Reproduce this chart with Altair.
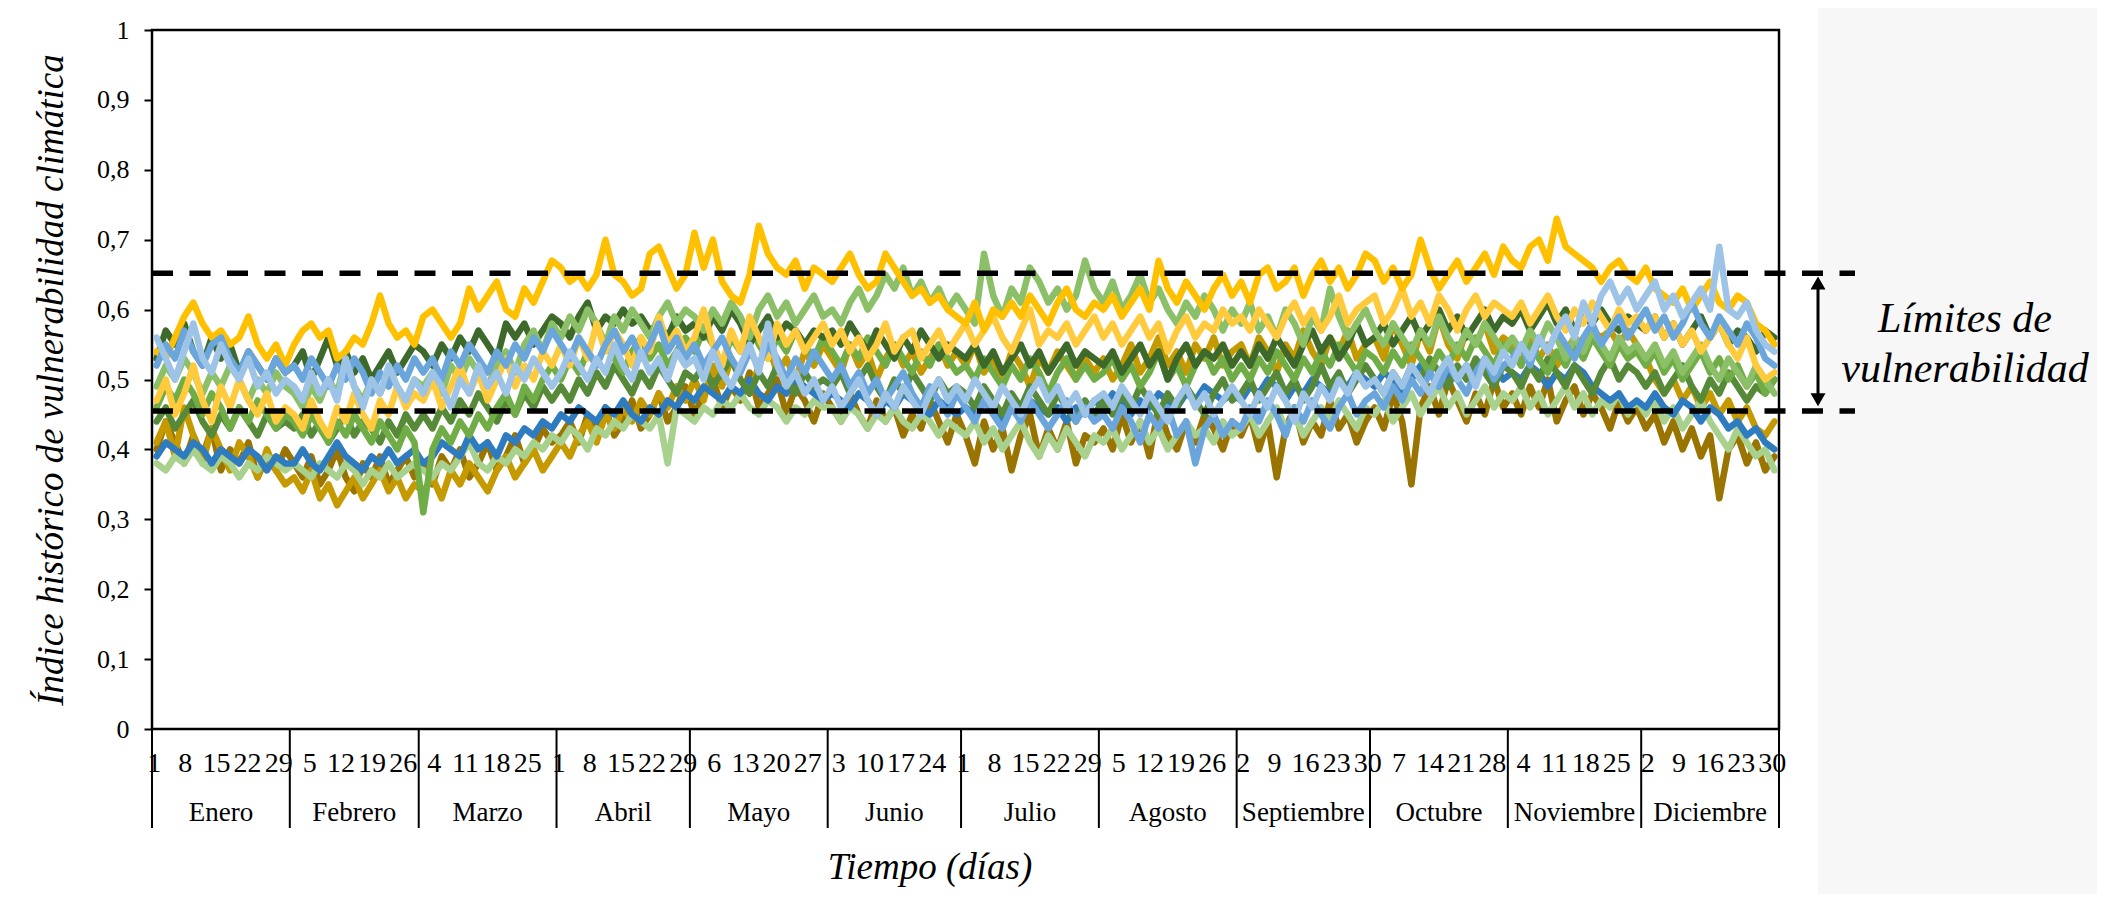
import altair as alt
import pandas as pd

# ---------------- data ----------------
MONTHS = ["Enero", "Febrero", "Marzo", "Abril", "Mayo", "Junio", "Julio",
          "Agosto", "Septiembre", "Octubre", "Noviembre", "Diciembre"]
MONTH_DAYS = [31, 29, 31, 30, 31, 30, 31, 31, 30, 31, 30, 31]
TICK_LABELS = [1, 8, 15, 22, 29, 5, 12, 19, 26, 4, 11, 18, 25, 1, 8, 15, 22, 29,
               6, 13, 20, 27, 3, 10, 17, 24, 1, 8, 15, 22, 29, 5, 12, 19, 26,
               2, 9, 16, 23, 30, 7, 14, 21, 28, 4, 11, 18, 25, 2, 9, 16, 23, 30]
Y_TICKS = [0, 0.1, 0.2, 0.3, 0.4, 0.5, 0.6, 0.7, 0.8, 0.9, 1.0]
LIMIT_UPPER = 0.652
LIMIT_LOWER = 0.455

# values in hundredths, 15 readings per month
S_GOLD = [
    54, 53, 56, 59, 61, 58, 56, 57, 55, 56, 59, 55, 53, 55, 52,
    55, 57, 58, 56, 57, 53, 54, 56, 55, 58, 62, 58, 56, 57, 55,
    59, 60, 58, 56, 58, 63, 60, 62, 64, 60, 59, 63, 61, 64, 67,
    66, 64, 65, 63, 65, 70, 65, 64, 62, 63, 68, 69, 66, 63, 65,
    71, 66, 70, 64, 62, 61, 65, 72, 68, 66, 65, 67, 63, 66, 65,
    64, 66, 68, 65, 63, 64, 68, 66, 64, 62, 63, 61, 62, 60, 59,
    58, 61, 57, 60, 59, 61, 59, 62, 60, 58, 61, 63, 60, 59, 61,
    60, 62, 59, 61, 63, 60, 67, 63, 61, 64, 62, 60, 63, 65, 62,
    64, 61, 65, 66, 63, 64, 66, 62, 65, 67, 64, 66, 63, 65, 68,
    67, 64, 66, 63, 65, 70, 66, 63, 65, 67, 64, 66, 68, 65, 69,
    67, 66, 69, 70, 67, 73, 69, 68, 67, 66, 64, 66, 67, 65, 64,
    66, 63, 62, 61, 63, 60, 62, 64, 61, 60, 62, 61, 58, 57, 55]
S_LIGHTGOLD = [
    47, 50, 45, 48, 52, 47, 44, 49, 46, 50, 47, 45, 48, 44, 46,
    45, 43, 47, 44, 42, 46, 44, 48, 45, 43, 47, 45, 49, 46, 48,
    47, 50, 46, 49, 52, 48, 51, 47, 50, 53, 49, 52, 50, 54, 52,
    55, 52, 56, 53, 58, 54, 57, 55, 52, 56, 54, 59, 55, 57, 54,
    56, 60, 55, 52, 57, 54, 59, 56, 53, 58, 55, 57, 54, 56, 58,
    55, 57, 54, 56, 53, 55, 58, 54, 56, 57, 53, 55, 57, 54, 56,
    58, 55, 57, 59, 56, 54, 57, 60, 55, 57, 56, 58, 55, 57, 59,
    56, 58, 55, 57, 59, 56, 58, 54, 57, 59, 56, 58, 57, 60, 58,
    59, 57, 60, 58, 56, 59, 61, 58, 60, 57, 59, 62, 58, 60, 61,
    62, 58, 60, 63, 59, 61, 58, 62, 60, 57, 60, 62, 59, 61, 60,
    59, 61, 58, 60, 62, 59, 57, 60, 58, 61, 59, 57, 60, 58, 59,
    57, 59, 56, 58, 55, 57, 54, 56, 58, 55, 53, 56, 52, 50, 51]
S_DARKGOLD = [
    41, 44, 39, 46, 42, 38, 43, 40, 37, 41, 39, 36, 40, 37, 35,
    36, 34, 37, 33, 35, 32, 34, 36, 33, 35, 37, 34, 36, 33, 35,
    34, 36, 33, 37, 35, 38, 36, 34, 37, 39, 36, 38, 40, 37, 39,
    41, 39, 42, 44, 41, 45, 43, 46, 44, 47, 45, 48, 46, 49, 47,
    50, 47, 52, 49, 53, 50, 48, 52, 55, 51, 53, 50, 54, 52, 55,
    53, 51, 55, 52, 54, 50, 53, 55, 52, 54, 51, 53, 55, 52, 54,
    52, 55, 51, 53, 50, 54, 52, 49, 53, 51, 54, 52, 50, 53, 51,
    53, 50, 52, 55, 51, 53, 56, 52, 54, 51, 55, 53, 56, 52, 54,
    55, 52, 56, 54, 51, 55, 53, 57, 54, 52, 56, 54, 57, 53, 55,
    56, 53, 58, 55, 52, 57, 54, 59, 55, 53, 57, 55, 58, 54, 56,
    55, 52, 56, 53, 55, 52, 54, 56, 55, 57, 56, 57, 55, 57, 55,
    53, 50, 48, 50, 47, 49, 46, 48, 45, 47, 44, 46, 43, 42, 44]
S_BROWN = [
    40, 44, 41, 38, 42, 39, 43, 37, 40, 38, 41, 36, 39, 37, 40,
    38, 36, 39, 35, 37, 40, 36, 34, 38, 36, 39, 35, 37, 39, 36,
    38, 35, 39, 37, 40, 36, 38, 41, 37, 39, 42, 38, 40, 43, 41,
    42, 44, 41, 45, 43, 46, 42, 44, 47, 43, 45, 48, 44, 46, 49,
    45, 48, 50, 46, 49, 47, 51, 46, 48, 50, 45, 49, 47, 44, 48,
    46, 44, 48, 45, 43, 47, 44, 46, 42, 45, 43, 47, 44, 41, 45,
    42, 38, 44, 40, 43, 37, 42, 45, 39, 43, 40, 44, 38, 42, 41,
    43, 40, 45, 41, 44, 39, 46, 42, 40, 44, 41, 45, 43, 40, 44,
    42, 45, 40, 44, 36, 43, 46, 41, 44, 42, 47, 43, 45, 41, 44,
    46, 43, 48, 44, 35, 46, 49, 45, 50, 47, 44, 48, 45, 50, 46,
    48, 45, 49, 46, 50, 44, 47, 49, 45, 48, 46, 43, 47, 44, 46,
    43, 45, 41, 44, 40, 43, 39, 42, 33, 40, 42, 38, 41, 37, 39]
S_DARKGREEN = [
    53, 57, 55, 58, 54, 52, 56, 53, 55, 51, 54, 52, 50, 53, 51,
    52, 54, 50, 53, 56, 52, 54, 51, 53, 50, 52, 54, 51, 53, 55,
    54, 52, 55, 53, 56, 54, 57, 55, 53, 58, 56, 58, 55, 57, 59,
    58, 56, 59, 61, 57, 59, 58, 60, 58, 59, 57, 58, 56, 59, 57,
    58, 56, 59, 57, 60, 58, 55, 57, 59, 56, 58, 57, 55, 57, 56,
    57, 55, 58, 56, 54, 57, 55, 53, 56, 54, 57, 55, 53, 55, 54,
    53, 55, 52, 54, 51, 53, 55, 52, 54, 51, 53, 55, 52, 54, 53,
    52, 54, 51, 53, 55, 52, 54, 50, 53, 55, 52, 54, 53, 55, 52,
    54, 52, 55, 53, 56, 54, 52, 55, 57, 54, 56, 53, 55, 58, 55,
    56, 58, 55, 57, 59, 56, 58, 60, 57, 59, 56, 58, 60, 57, 59,
    58, 60, 57, 59, 61, 58, 60, 57, 59, 58, 60, 58, 57, 59, 58,
    57, 59, 56, 58, 55, 57, 59, 56, 58, 55, 57, 56, 54, 57, 56]
S_MIDGREEN = [
    44, 46, 43, 45, 47, 44, 42, 45, 43, 46, 44, 42, 45, 43, 44,
    43, 45, 42, 44, 41, 43, 45, 42, 44, 43, 41, 44, 42, 45, 43,
    45, 43, 46, 44, 47, 45, 48, 46, 44, 47, 45, 48, 46, 49, 47,
    49, 47, 50, 48, 51, 49, 52, 50, 48, 51, 49, 52, 50, 48, 51,
    50, 52, 49, 51, 53, 50, 48, 51, 49, 52, 50, 48, 51, 49, 50,
    49, 51, 48, 50, 52, 49, 47, 50, 48, 51, 49, 47, 50, 48, 49,
    48, 46, 49, 47, 45, 48, 46, 49, 47, 45, 48, 46, 44, 47, 45,
    47, 45, 48, 46, 49, 47, 45, 48, 46, 49, 47, 45, 48, 50, 47,
    48, 50, 47, 49, 51, 48, 50, 47, 49, 52, 49, 51, 48, 50, 52,
    50, 48, 51, 49, 52, 50, 53, 51, 49, 52, 50, 53, 51, 49, 52,
    51, 49, 52, 50, 53, 51, 49, 52, 50, 48, 51, 53, 50, 52, 51,
    49, 51, 48, 50, 52, 49, 47, 50, 48, 51, 49, 47, 49, 48, 50]
S_GREEN = [
    46, 49, 47, 50, 48, 45, 48, 46, 43, 46, 44, 47, 45, 43, 45,
    44, 42, 45, 43, 41, 44, 42, 45, 43, 41, 44, 42, 40, 43, 41,
    31, 40, 43, 41, 44, 42, 45, 43, 46, 48, 45, 49, 47, 50, 52,
    50, 53, 51, 54, 52, 55, 53, 51, 54, 56, 53, 55, 52, 54, 56,
    54, 57, 55, 52, 56, 54, 58, 55, 53, 56, 54, 57, 55, 53, 56,
    54, 52, 55, 53, 56, 54, 52, 55, 53, 51, 54, 52, 55, 53, 51,
    52, 50, 53, 51, 49, 52, 50, 53, 51, 48, 51, 53, 50, 52, 50,
    51, 53, 50, 52, 49, 51, 54, 50, 52, 49, 52, 54, 51, 53, 50,
    52, 50, 53, 51, 54, 52, 50, 53, 51, 54, 52, 55, 53, 51, 54,
    53, 51, 54, 52, 55, 53, 51, 54, 52, 55, 53, 56, 54, 52, 55,
    54, 52, 55, 53, 51, 54, 52, 55, 53, 56, 54, 52, 55, 53, 54,
    52, 54, 51, 53, 50, 52, 54, 51, 53, 50, 52, 49, 51, 48, 50]
S_LIGHTGREEN = [
    49, 52, 50, 53, 51, 48, 51, 49, 52, 50, 47, 50, 48, 51, 49,
    48, 46, 49, 47, 50, 48, 53, 49, 47, 50, 48, 51, 49, 47, 50,
    49, 51, 48, 52, 50, 53, 51, 49, 52, 54, 51, 55, 57, 54, 58,
    56, 59, 57, 60, 58, 55, 59, 57, 60, 58, 56, 59, 61, 58, 60,
    59, 57, 60, 58, 61, 59, 56, 60, 62, 59, 61, 58, 60, 62, 59,
    60, 58, 61, 63, 60, 62, 65, 63, 66, 62, 64, 61, 63, 60, 62,
    60, 58, 68, 62, 59, 63, 61, 66, 64, 61, 63, 60, 62, 67, 63,
    61, 64, 60, 62, 65, 61, 63, 60, 58, 61, 59, 62, 60, 57, 60,
    58, 61, 57, 59, 56, 60, 58, 55, 59, 57, 63, 59, 56, 58, 60,
    57, 55, 58, 56, 54, 57, 55, 59, 56, 54, 57, 55, 58, 56, 54,
    56, 54, 57, 55, 58, 56, 53, 56, 54, 57, 55, 53, 56, 54, 55,
    53, 55, 52, 54, 51, 53, 55, 52, 50, 53, 51, 49, 52, 50, 48]
S_PALEGREEN = [
    38, 37, 39, 38, 40, 38, 37, 39, 38, 36, 38, 37, 39, 38, 37,
    38, 37, 36, 38, 37, 36, 38, 37, 35, 37, 36, 38, 36, 37, 38,
    37, 36, 38, 37, 39, 41, 38, 37, 39, 38, 40, 39, 41, 40, 42,
    41, 43, 42, 40, 43, 42, 44, 43, 45, 44, 43, 45, 38, 46, 45,
    44, 46, 45, 47, 46, 48, 46, 45, 47, 46, 44, 46, 45, 47, 46,
    46, 44, 46, 45, 43, 45, 44, 46, 44, 43, 45, 44, 42, 44, 43,
    42, 44, 41, 43, 40, 42, 44, 41, 39, 42, 40, 43, 41, 39, 42,
    41, 43, 40, 42, 44, 41, 43, 40, 42, 44, 42, 43, 41, 44, 42,
    43, 45, 42, 44, 46, 43, 45, 42, 44, 46, 44, 47, 45, 43, 46,
    45, 47, 44, 46, 48, 45, 47, 49, 46, 48, 45, 47, 49, 46, 48,
    47, 49, 46, 48, 45, 47, 49, 46, 48, 45, 47, 46, 48, 45, 47,
    45, 47, 44, 46, 43, 45, 47, 44, 42, 40, 43, 41, 39, 40, 37]
S_BLUE = [
    39, 41, 40, 39, 41, 40, 38, 40, 39, 38, 40, 39, 37, 39, 38,
    38, 40, 38, 37, 39, 41, 39, 38, 37, 39, 38, 40, 38, 39, 40,
    38, 39, 41, 40, 39, 42, 40, 41, 39, 42, 41, 43, 42, 44, 43,
    45, 44, 46, 45, 44, 46, 45, 47, 45, 44, 46, 45, 47, 46, 48,
    47, 49, 48, 47, 49, 48, 50, 48, 47, 49, 48, 50, 49, 48, 47,
    48, 47, 46, 48, 47, 45, 47, 46, 48, 47, 46, 45, 47, 46, 45,
    46, 45, 47, 46, 44, 46, 45, 47, 46, 45, 46, 44, 46, 45, 47,
    46, 48, 47, 45, 47, 46, 48, 47, 46, 48, 47, 49, 48, 47, 48,
    47, 49, 48, 50, 49, 47, 49, 48, 50, 49, 48, 50, 49, 51, 50,
    49, 51, 50, 48, 50, 52, 51, 49, 51, 50, 52, 51, 53, 52, 50,
    51, 50, 52, 51, 49, 51, 50, 52, 51, 49, 48, 47, 48, 46, 47,
    46, 48, 46, 45, 47, 46, 44, 46, 45, 43, 44, 42, 43, 41, 40]
S_MIDBLUE = [
    52, 55, 53, 57, 54, 52, 55, 56, 53, 51, 54, 52, 50, 53, 51,
    52, 50, 53, 51, 49, 52, 50, 53, 51, 48, 51, 49, 52, 50, 53,
    51, 53, 50, 54, 52, 55, 53, 51, 54, 52, 55, 53, 56, 54, 57,
    55, 53, 56, 54, 52, 55, 57, 54, 56, 53, 55, 58, 54, 56, 53,
    55, 52, 54, 56, 53, 51, 54, 52, 55, 53, 50, 53, 51, 54, 52,
    50, 52, 49, 51, 48, 50, 47, 49, 51, 48, 46, 49, 47, 45, 48,
    46, 44, 47, 45, 43, 46, 44, 47, 45, 43, 45, 47, 44, 46, 44,
    45, 43, 46, 44, 41, 45, 43, 46, 42, 44, 38, 43, 45, 42, 44,
    43, 46, 44, 47, 45, 42, 46, 44, 47, 45, 43, 46, 48, 45, 47,
    48, 46, 49, 47, 50, 48, 51, 49, 52, 50, 48, 51, 53, 50, 52,
    53, 55, 52, 56, 54, 57, 55, 53, 56, 58, 55, 57, 59, 56, 58,
    60, 57, 59, 56, 58, 61, 58, 56, 59, 57, 55, 58, 56, 53, 52]
S_LIGHTBLUE = [
    56, 53, 50, 54, 58, 53, 51, 55, 52, 50, 53, 49, 51, 48, 50,
    49, 47, 51, 48, 50, 47, 53, 49, 46, 50, 48, 52, 49, 47, 50,
    48, 51, 49, 46, 50, 48, 52, 49, 51, 48, 52, 50, 53, 51, 49,
    51, 54, 52, 50, 53, 51, 55, 52, 50, 54, 51, 53, 50, 54, 52,
    53, 50, 54, 51, 49, 52, 55, 51, 58, 52, 49, 51, 48, 50, 47,
    49, 46, 48, 50, 47, 45, 48, 46, 49, 47, 45, 48, 50, 47, 49,
    47, 50, 48, 46, 49, 47, 45, 48, 50, 47, 49, 46, 48, 45, 47,
    48, 46, 49, 47, 45, 48, 46, 44, 47, 49, 46, 48, 45, 47, 49,
    47, 45, 48, 46, 49, 47, 44, 48, 46, 49, 47, 50, 48, 51, 49,
    50, 48, 51, 49, 52, 50, 48, 51, 53, 50, 52, 49, 53, 51, 54,
    52, 55, 53, 56, 54, 57, 59, 56, 61, 58, 62, 64, 61, 63, 60,
    62, 64, 60, 62, 59, 61, 63, 60, 69, 60, 59, 61, 57, 55, 54]

# drawing order: first listed is drawn first (underneath)
SERIES = [
    ("brown", "#9A7400", S_BROWN),
    ("darkgold", "#C59A00", S_DARKGOLD),
    ("palegreen", "#A9D18E", S_PALEGREEN),
    ("blue", "#2F7BC0", S_BLUE),
    ("midgreen", "#568A38", S_MIDGREEN),
    ("green", "#70AD47", S_GREEN),
    ("darkgreen", "#3D6A2A", S_DARKGREEN),
    ("lightgreen", "#8CC068", S_LIGHTGREEN),
    ("lightgold", "#FFCB3D", S_LIGHTGOLD),
    ("gold", "#FFC000", S_GOLD),
    ("midblue", "#6AA5DC", S_MIDBLUE),
    ("lightblue", "#9DC3E6", S_LIGHTBLUE),
]

# ---------------- layout ----------------
W, H = 1627, 699
FONT = "Liberation Serif"

month_start = []
acc = 0
for d in MONTH_DAYS:
    month_start.append(acc)
    acc += d


def positions(vals):
    out = []
    for i in range(len(vals)):
        m = min(i // 15, 11)
        k = i - m * 15
        out.append(month_start[m] + (k + 0.5) * MONTH_DAYS[m] / 15.0)
    return out


xs = alt.Scale(domain=[0, 366], nice=False, zero=False)
ys = alt.Scale(domain=[0, 1], nice=False, zero=False)
yaxis = alt.Axis(
    values=Y_TICKS, grid=False, domain=False,
    labelExpr="replace(format(datum.value, '.1~f'), '.', ',')",
    labelFont=FONT, labelFontSize=26, labelColor="black", labelPadding=15,
    ticks=True, tickSize=8, tickWidth=2, tickColor="black",
    title="Índice histórico de vulnerabilidad climática",
    titleFont=FONT, titleFontSize=37, titleFontStyle="italic",
    titleFontWeight="normal", titleColor="black",
    titleX=-101, titleY=H / 2, titleAngle=270, titleAlign="center",
    titleBaseline="middle",
)

layers = []

# light grey band at the right of the figure
bg = alt.Chart(pd.DataFrame({"a": [0]})).mark_rect(color="#F7F7F7").encode(
    x=alt.value(1666), x2=alt.value(W + 318),
    y=alt.value(-22), y2=alt.value(H + 165))
layers.append(bg)

for name, color, vals in SERIES:
    df = pd.DataFrame({"day": positions(vals), "v": [v / 100.0 for v in vals]})
    layers.append(
        alt.Chart(df).mark_line(color=color, strokeWidth=6.5, strokeJoin="round",
                                strokeCap="round").encode(
            x=alt.X("day:Q", scale=xs, axis=None),
            y=alt.Y("v:Q", scale=ys, axis=yaxis),
        )
    )

# dashed vulnerability limits
lim_df = pd.DataFrame({"v": [LIMIT_UPPER, LIMIT_LOWER]})
layers.append(
    alt.Chart(lim_df).mark_rule(color="black", strokeWidth=5.5,
                                strokeDash=[21, 16.5]).encode(
        x=alt.value(0), x2=alt.value(1703),
        y=alt.Y("v:Q", scale=ys, axis=yaxis))
)

# double arrow between the limits
arr_df = pd.DataFrame({"v": [0.638], "v2": [0.471]})
layers.append(
    alt.Chart(arr_df).mark_rule(color="black", strokeWidth=3).encode(
        x=alt.value(1666), y=alt.Y("v:Q", scale=ys, axis=yaxis), y2="v2:Q")
)
layers.append(
    alt.Chart(pd.DataFrame({"v": [0.638]})).mark_point(
        shape="triangle-up", filled=True, size=225, color="black", opacity=1).encode(
        x=alt.value(1666), y=alt.Y("v:Q", scale=ys, axis=yaxis))
)
layers.append(
    alt.Chart(pd.DataFrame({"v": [0.471]})).mark_point(
        shape="triangle-down", filled=True, size=225, color="black", opacity=1).encode(
        x=alt.value(1666), y=alt.Y("v:Q", scale=ys, axis=yaxis))
)

# annotation text
layers.append(
    alt.Chart(pd.DataFrame({"t": ["Límites de"]})).mark_text(
        font=FONT, fontSize=42, fontStyle="italic", color="black",
        align="center", baseline="alphabetic").encode(
        x=alt.value(1813), y=alt.value(302), text="t:N")
)
layers.append(
    alt.Chart(pd.DataFrame({"t": ["vulnerabilidad"]})).mark_text(
        font=FONT, fontSize=42, fontStyle="italic", color="black",
        align="center", baseline="alphabetic").encode(
        x=alt.value(1813), y=alt.value(352), text="t:N")
)

# day-of-month tick labels (every 7 days)
tick_df = pd.DataFrame({
    "day": [7 * i + 0.5 for i in range(len(TICK_LABELS))],
    "lab": [str(v) for v in TICK_LABELS],
})
layers.append(
    alt.Chart(tick_df).mark_text(font=FONT, fontSize=28, color="black",
                                 align="center", baseline="alphabetic").encode(
        x=alt.X("day:Q", scale=xs, axis=None), y=alt.value(H + 43), text="lab:N")
)

# month separators and month names
sep_df = pd.DataFrame({"day": month_start + [366]})
layers.append(
    alt.Chart(sep_df).mark_rule(color="black", strokeWidth=2).encode(
        x=alt.X("day:Q", scale=xs, axis=None), y=alt.value(H), y2=alt.value(H + 99))
)
mon_df = pd.DataFrame({
    "day": [s + d / 2 for s, d in zip(month_start, MONTH_DAYS)],
    "m": MONTHS,
})
layers.append(
    alt.Chart(mon_df).mark_text(font=FONT, fontSize=27, color="black",
                                align="center", baseline="alphabetic").encode(
        x=alt.X("day:Q", scale=xs, axis=None), y=alt.value(H + 92), text="m:N")
)

# x title
layers.append(
    alt.Chart(pd.DataFrame({"t": ["Tiempo (días)"]})).mark_text(
        font=FONT, fontSize=37, fontStyle="italic", color="black",
        align="center", baseline="alphabetic").encode(
        x=alt.value(778), y=alt.value(H + 150), text="t:N")
)

chart = alt.layer(*layers).properties(
    width=W, height=H,
    padding={"left": 144, "top": 22, "right": 318, "bottom": 165},
    autosize=alt.AutoSizeParams(type="none"),
    background="white",
).configure_view(stroke="black", strokeWidth=2.5)

chart.save("out.html", embed_options={"renderer": "svg", "actions": False})
